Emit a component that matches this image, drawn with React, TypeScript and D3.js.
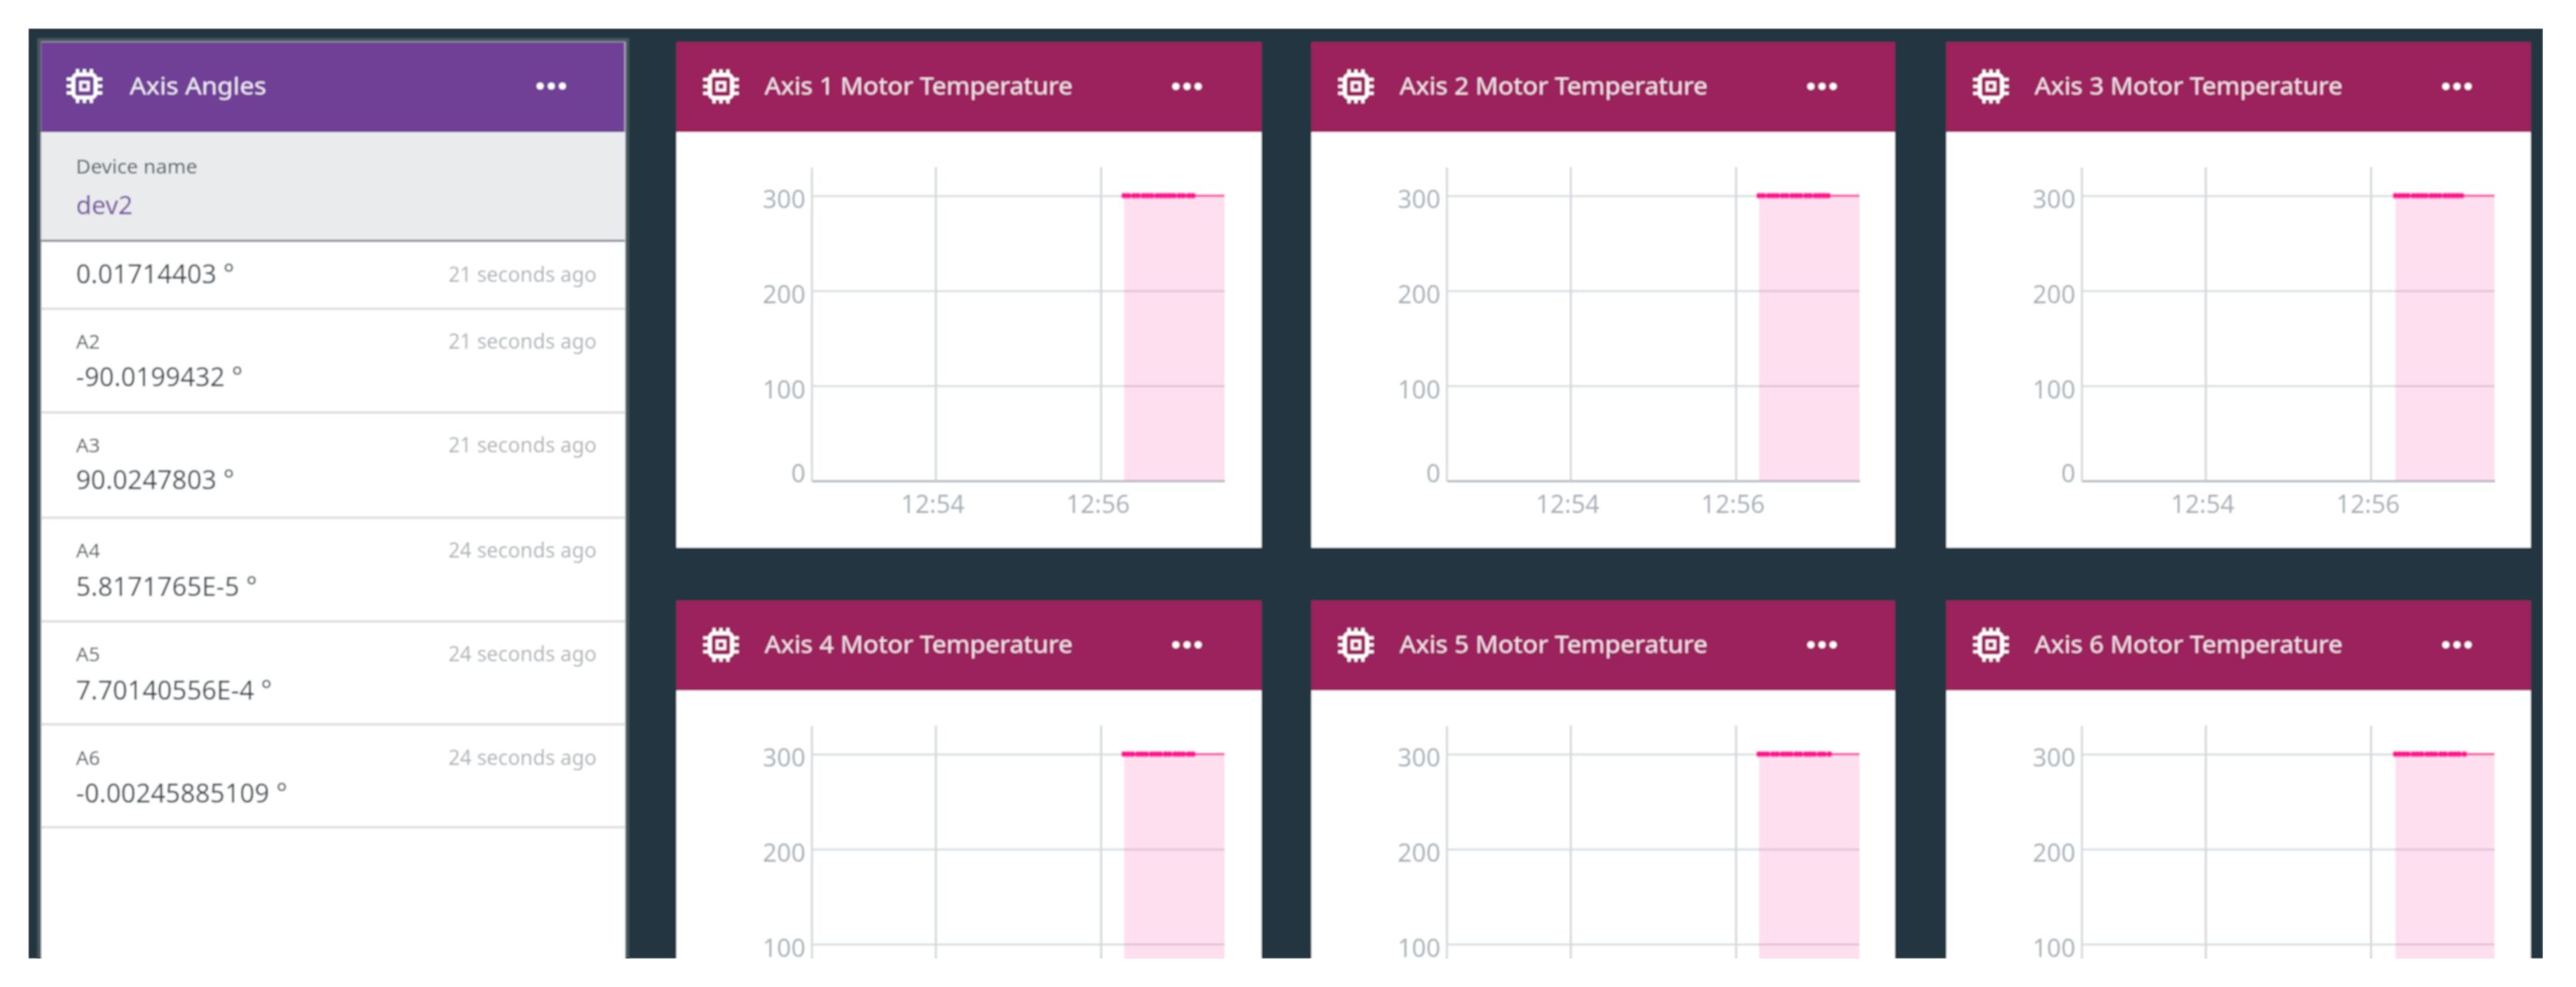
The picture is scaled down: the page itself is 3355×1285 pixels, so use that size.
import { useEffect, useRef } from "react";
import * as d3 from "d3";

const W = 3355;
const H = 1285;

// card layout, px
const CARD_X = [881, 1708, 2535];
const CARD_Y = [55, 782];
const CARD_W = [762, 760, 761];
const CARD_H = 658;
const HEADER_H = 117;
const PAGE_BOTTOM = 1248;
const M = { top: 162.5, left: 176 };
const PLOT_W = 538;
const PLOT_H = 408.5;

const cardTitles = [
  "Axis 1 Motor Temperature",
  "Axis 2 Motor Temperature",
  "Axis 3 Motor Temperature",
  "Axis 4 Motor Temperature",
  "Axis 5 Motor Temperature",
  "Axis 6 Motor Temperature",
];

// seconds after 12:56:00 for each reading, the last one is the window end
const axis1Seconds = [17, 20, 24, 27, 31, 34, 37, 41, 44, 47, 50, 53, 57, 60, 64, 67, 90];
const axis2Seconds = [17, 20, 24, 27, 30, 34, 37, 41, 44, 47, 51, 54, 58, 61, 64, 67, 90];
const axis3Seconds = [18, 21, 24, 27, 31, 34, 37, 40, 44, 47, 50, 54, 57, 60, 63, 66, 90];
const axis4Seconds = [17, 20, 23, 27, 30, 33, 37, 40, 43, 47, 50, 54, 57, 60, 64, 67, 90];
const axis5Seconds = [17, 20, 23, 27, 30, 34, 37, 40, 44, 47, 51, 54, 57, 61, 64, 68, 90];
const axis6Seconds = [18, 21, 24, 27, 31, 34, 37, 41, 44, 47, 51, 54, 58, 61, 64, 68, 90];
const allSeconds = [axis1Seconds, axis2Seconds, axis3Seconds, axis4Seconds, axis5Seconds, axis6Seconds];
const temperature = 300;

const yTicks = [0, 100, 200, 300];
const yLabelShift: Record<number, number> = { 0: -9, 100: 6, 200: 6, 300: 5 };

const sensorLabels = ["", "A2", "A3", "A4", "A5", "A6"];
const sensorValues = [
  "0.01714403 °",
  "-90.0199432 °",
  "90.0247803 °",
  "5.8171765E-5 °",
  "7.70140556E-4 °",
  "-0.00245885109 °",
];
const sensorAges = [
  "21 seconds ago",
  "21 seconds ago",
  "21 seconds ago",
  "24 seconds ago",
  "24 seconds ago",
  "24 seconds ago",
];
const rowLabelY = [358, 445, 580, 717, 852, 987];
const rowValueY = [357, 491, 625, 764, 899, 1033];
const rowLines = [402, 537, 674, 809, 943, 1077];

const FONT = "'Noto Sans', sans-serif";

const clock = (m: number, s = 0) => new Date(2020, 0, 1, 12, m, s);

function Chip({ cx, cy }: { cx: number; cy: number }) {
  const teeth = [-9, 0, 9];
  return (
    <g transform={`translate(${cx},${cy})`} stroke="#fff" fill="none">
      <rect x={-14.5} y={-15} width={29} height={30} rx={6} strokeWidth={5} />
      <rect x={-5} y={-5} width={10} height={10} strokeWidth={3.5} />
      {teeth.map((t) => (
        <g key={t} strokeWidth={4}>
          <line x1={t} x2={t} y1={-22} y2={-15} />
          <line x1={t} x2={t} y1={15} y2={22} />
          <line x1={-23} x2={-15} y1={t} y2={t} />
          <line x1={15} x2={23} y1={t} y2={t} />
        </g>
      ))}
    </g>
  );
}

function Dots({ cx, cy }: { cx: number; cy: number }) {
  return (
    <g fill="#fff">
      {[-14.5, 0, 14.5].map((d) => (
        <circle key={d} cx={cx + d} cy={cy} r={4.6} />
      ))}
    </g>
  );
}

function MotorCard({ x, y, width, title, seconds }: { x: number; y: number; width: number; title: string; seconds: number[] }) {
  const gRef = useRef<SVGGElement>(null);

  useEffect(() => {
    if (!gRef.current) return;

    const g = d3.select(gRef.current);
    g.selectAll("*").remove();

    const xScale = d3.scaleTime().domain([clock(52, 30), clock(57, 30)]).range([0, PLOT_W]);
    const yScale = d3.scaleLinear().domain([0, 330]).range([PLOT_H, 0]);

    const xAxis = g
      .append("g")
      .attr("transform", `translate(0,${PLOT_H})`)
      .call(
        d3
          .axisBottom<Date>(xScale)
          .tickValues([clock(54), clock(56)])
          .tickFormat(d3.timeFormat("%H:%M") as any)
          .tickSizeInner(-PLOT_H)
          .tickSizeOuter(0)
          .tickPadding(19),
      );
    xAxis.select(".domain").attr("stroke", "#b4bbc1").attr("stroke-width", 3);
    xAxis.selectAll(".tick line").attr("stroke", "#cdd3d7").attr("stroke-width", 2.5);
    xAxis
      .selectAll(".tick text")
      .attr("dx", -4)
      .attr("fill", "#a4adb5")
      .attr("font-size", 32.5)
      .attr("font-family", FONT);

    const yAxis = g
      .append("g")
      .call(d3.axisLeft(yScale).tickValues(yTicks).tickSizeInner(-PLOT_W).tickSizeOuter(0).tickPadding(8));
    yAxis.select(".domain").attr("stroke", "#d0d5d9").attr("stroke-width", 2.5);
    yAxis
      .selectAll(".tick line")
      .attr("stroke", (d: any) => (d === 0 ? "none" : "#d6dbde"))
      .attr("stroke-width", 2.5);
    yAxis
      .selectAll(".tick text")
      .attr("transform", (d: any) => `translate(0,${yLabelShift[d]})`)
      .attr("fill", "#a4adb5")
      .attr("font-size", 32.5)
      .attr("font-family", FONT);

    // the screenshot stops above the time axis on the lower row
    if (y + M.top + PLOT_H > PAGE_BOTTOM) {
      xAxis.selectAll(".tick text").remove();
      yAxis
        .selectAll(".tick text")
        .filter((d: any) => d === 0)
        .remove();
    }

    const times = seconds.map((s) => clock(56, s));

    const area = d3
      .area<Date>()
      .x((d) => xScale(d))
      .y0(PLOT_H)
      .y1(yScale(temperature));
    g.append("path").attr("d", area(times)).attr("fill", "#fb3fa0").attr("fill-opacity", 0.17);

    const line = d3
      .line<Date>()
      .x((d) => xScale(d))
      .y(yScale(temperature));
    g.append("path")
      .attr("d", line(times))
      .attr("fill", "none")
      .attr("stroke", "#fb4fa5")
      .attr("stroke-width", 3);

    g.selectAll("circle.reading")
      .data(times.slice(0, -1))
      .join("circle")
      .attr("class", "reading")
      .attr("cx", (d) => xScale(d))
      .attr("cy", yScale(temperature))
      .attr("r", 3.9)
      .attr("fill", "#ff1493");
  }, [seconds, y]);

  return (
    <g transform={`translate(${x},${y})`}>
      <rect width={width} height={CARD_H} fill="#fff" />
      <rect width={width} height={HEADER_H} fill="#9c215d" />
      <Chip cx={58} cy={57.5} />
      <text
        x={115}
        y={57.5}
        dy=".35em"
        fill="#f4e6ee"
        fontSize={31}
        fontFamily={FONT}
        textLength={401}
        lengthAdjust="spacingAndGlyphs"
      >
        {title}
      </text>
      <Dots cx={665} cy={57.5} />
      <g ref={gRef} transform={`translate(${M.left},${M.top})`} />
    </g>
  );
}

function AnglesPanel() {
  return (
    <g>
      <rect x={51} y={52} width={766} height={1210} fill="#fff" stroke="#47575f" strokeWidth={5} />
      <rect x={53.5} y={55} width={760} height={117} fill="#6f3f96" />
      <Chip cx={110} cy={112} />
      <text x={169} y={112} dy=".35em" fill="#f3eef7" fontSize={31} fontFamily={FONT} textLength={178} lengthAdjust="spacingAndGlyphs">
        Axis Angles
      </text>
      <Dots cx={718} cy={112} />
      <rect x={53.5} y={172} width={760} height={141} fill="#e9ebed" />
      <rect x={53.5} y={312} width={760} height={3} fill="#8b9297" />
      <text x={99} y={217} dy=".35em" fill="#4d555b" fontSize={26} fontFamily={FONT} textLength={158} lengthAdjust="spacingAndGlyphs">
        Device name
      </text>
      <text x={99} y={267} dy=".35em" fill="#74489c" fontSize={33} fontFamily={FONT}>
        dev2
      </text>
      {sensorValues.map((v, i) => (
        <g key={v} fontFamily={FONT}>
          {sensorLabels[i] && (
            <text x={99} y={rowLabelY[i]} dy=".35em" fill="#4d555b" fontSize={26}>
              {sensorLabels[i]}
            </text>
          )}
          <text x={99} y={rowValueY[i]} dy=".35em" fill="#3d474e" fontSize={33.8}>
            {v}
          </text>
          <text x={777} y={rowLabelY[i]} dy=".35em" textAnchor="end" fill="#adb3b8" fontSize={26.5}>
            {sensorAges[i]}
          </text>
          <rect x={53.5} y={rowLines[i] - 1.5} width={760} height={3} fill="#d9dcdf" />
        </g>
      ))}
    </g>
  );
}

export default function App() {
  return (
    <svg
      width={W}
      height={H}
      viewBox={`0 0 ${W} ${H}`}
      style={{ position: "absolute", left: 0, top: 0, display: "block", background: "#fff" }}
    >
      <defs>
        <clipPath id="page">
          <rect x={37} y={37} width={3275} height={PAGE_BOTTOM - 37} />
        </clipPath>
        <filter id="soft" x="0" y="0" width="100%" height="100%">
          <feGaussianBlur stdDeviation={1} />
        </filter>
      </defs>
      <g clipPath="url(#page)">
        <g filter="url(#soft)">
          <rect x={37} y={37} width={3275} height={PAGE_BOTTOM - 37} fill="#22363f" />
          <AnglesPanel />
          {cardTitles.map((t, i) => (
            <MotorCard
              key={t}
              x={CARD_X[i % 3]}
              y={CARD_Y[Math.floor(i / 3)]}
              width={CARD_W[i % 3]}
              title={t}
              seconds={allSeconds[i]}
            />
          ))}
        </g>
      </g>
    </svg>
  );
}
